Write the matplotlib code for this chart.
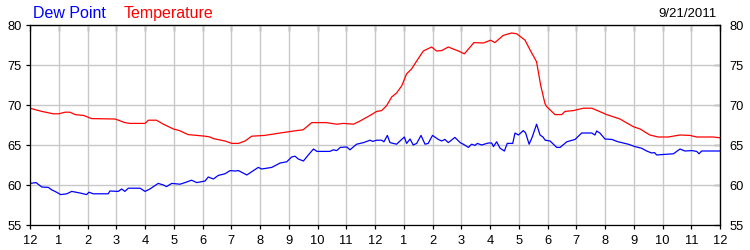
import matplotlib.pyplot as plt

# hours since midnight
temp_hours = [0.0, 0.2, 0.41, 0.81, 1.0, 1.22, 1.39, 1.57, 1.86, 2.14, 2.96, 3.3, 3.48, 4.0,
              4.12, 4.4, 4.64, 4.99, 5.2, 5.5, 5.8, 6.09, 6.26, 6.38, 6.78, 7.02, 7.25, 7.48,
              7.71, 8.17, 8.7, 9.27, 9.5, 9.8, 10.3, 10.67, 10.9, 11.25, 11.48, 11.83, 12.06,
              12.23, 12.4, 12.58, 12.75, 12.93, 13.1, 13.27, 13.45, 13.68, 13.97, 14.14, 14.32,
              14.55, 14.72, 14.9, 15.11, 15.44, 15.77, 16.02, 16.17, 16.46, 16.75, 16.93, 17.22,
              17.39, 17.62, 17.76, 17.91, 17.97, 18.26, 18.49, 18.61, 18.9, 19.25, 19.54, 19.77,
              20.06, 20.52, 20.98, 21.22, 21.56, 21.85, 22.2, 22.6, 22.95, 23.19, 23.77, 24.0]
temp_values = [69.6, 69.4, 69.2, 68.9, 68.9, 69.1, 69.1, 68.8, 68.7, 68.3, 68.25, 67.8, 67.7, 67.7,
               68.1, 68.1, 67.6, 67.0, 66.8, 66.3, 66.2, 66.1, 66.0, 65.8, 65.5, 65.2, 65.2, 65.5,
               66.1, 66.2, 66.5, 66.8, 66.9, 67.8, 67.8, 67.6, 67.7, 67.6, 68.0, 68.7, 69.2,
               69.3, 69.9, 71.0, 71.5, 72.4, 73.9, 74.5, 75.5, 76.75, 77.25, 76.75, 76.8,
               77.25, 77.0, 76.75, 76.4, 77.8, 77.75, 78.1, 77.8, 78.7, 79.0, 78.9, 78.1,
               76.9, 75.4, 72.5, 70.2, 69.8, 68.8, 68.8, 69.2, 69.3, 69.6, 69.6, 69.25,
               68.8, 68.25, 67.3, 67.0, 66.25, 66.0, 66.0, 66.25, 66.2, 66.0, 66.0, 65.9]

dew_hours = [0.0, 0.21, 0.41, 0.64, 0.75, 0.87, 1.07, 1.28, 1.45, 1.74, 1.97, 2.05, 2.2, 2.72,
             2.78, 3.07, 3.19, 3.3, 3.42, 3.83, 4.0, 4.17, 4.46, 4.64, 4.75, 4.93, 5.22, 5.39,
             5.62, 5.8, 6.09, 6.2, 6.38, 6.55, 6.78, 6.96, 7.13, 7.25, 7.36, 7.54, 7.77, 7.94,
             8.06, 8.41, 8.7, 8.93, 9.1, 9.22, 9.33, 9.51, 9.68, 9.86, 9.98, 10.43, 10.55,
             10.67, 10.79, 11.02, 11.13, 11.36, 11.6, 11.83, 11.92, 12.06, 12.23, 12.31, 12.43,
             12.52, 12.75, 12.93, 13.02, 13.1, 13.22, 13.33, 13.45, 13.6, 13.74, 13.85, 14.0,
             14.2, 14.32, 14.43, 14.55, 14.78, 14.96, 15.07, 15.25, 15.36, 15.48, 15.56, 15.71,
             15.94, 16.06, 16.12, 16.23, 16.35, 16.5, 16.6, 16.79, 16.87, 16.99, 17.16, 17.24,
             17.36, 17.47, 17.62, 17.74, 17.84, 17.92, 18.09, 18.32, 18.44, 18.67, 18.96, 19.19,
             19.54, 19.65, 19.71, 19.82, 20.0, 20.23, 20.46, 20.81, 21.04, 21.27, 21.45, 21.62,
             21.72, 21.8, 21.97, 22.38, 22.61, 22.78, 23.02, 23.19, 23.27, 23.36, 24.0]
dew_values = [60.2, 60.3, 59.75, 59.7, 59.4, 59.2, 58.8, 58.9, 59.2, 59.0, 58.8, 59.1, 58.9, 58.9,
              59.25, 59.2, 59.5, 59.2, 59.6, 59.6, 59.2, 59.5, 60.2, 60.0, 59.8, 60.2, 60.1, 60.3,
              60.6, 60.3, 60.5, 61.0, 60.75, 61.2, 61.4, 61.8, 61.75, 61.8, 61.6, 61.25, 61.8, 62.2,
              62.0, 62.2, 62.75, 62.9, 63.5, 63.6, 63.25, 63.0, 63.75, 64.5, 64.2, 64.2, 64.4,
              64.3, 64.7, 64.75, 64.4, 65.1, 65.3, 65.6, 65.45, 65.6, 65.6, 65.4, 66.2,
              65.3, 65.1, 65.7, 66.0, 65.2, 65.75, 65.0, 65.2, 66.2, 65.1, 65.2, 66.2,
              65.7, 65.5, 65.7, 65.3, 65.95, 65.3, 65.1, 64.7, 65.1, 64.95, 65.2, 65.0,
              65.25, 65.25, 64.8, 65.4, 64.6, 64.25, 65.2, 65.2, 66.5, 66.25, 66.8, 66.5,
              65.1, 66.0, 67.6, 66.25, 66.0, 65.6, 65.5, 64.7, 64.7, 65.4, 65.7, 66.5,
              66.5, 66.25, 66.75, 66.5, 65.75, 65.7, 65.4, 65.1, 64.8, 64.6, 64.25, 64.0,
              64.05, 63.75, 63.8, 63.9, 64.5, 64.25, 64.3, 64.2, 63.9, 64.25, 64.25]

hour_ticks = list(range(25))
hour_labels = ['12'] + [str(h) for h in range(1, 12)] + ['12'] + [str(h) for h in range(1, 12)] + ['12']
y_ticks = [55, 60, 65, 70, 75, 80]

plt.rcParams['font.family'] = ['Liberation Sans', 'DejaVu Sans']

fig = plt.figure(figsize=(7.5, 2.5), dpi=100)
ax = fig.add_axes([0.04, 0.1, 0.92, 0.8])

ax.plot(temp_hours, temp_values, color='#ff0000', lw=0.9)
ax.plot(dew_hours, dew_values, color='#0000ff', lw=0.9)

ax.set_xlim(0, 24)
ax.set_ylim(55, 80)
ax.set_xticks(hour_ticks)
ax.set_xticklabels(hour_labels)
ax.set_yticks(y_ticks)
ax.set_axisbelow(True)
ax.grid(color='#c8c8c8', lw=1)
for s in ax.spines.values():
    s.set_linewidth(0.9)
ax.tick_params(axis='x', direction='out', length=3, width=0.9, pad=4, labelsize=9.3)
ax.tick_params(axis='y', direction='out', length=3, width=0.9, pad=3, labelsize=9.3)

# top ticks point inward, right side has labels and inward ticks
top = ax.secondary_xaxis('top')
top.set_xticks(hour_ticks)
top.tick_params(direction='in', length=4, width=0.9, labeltop=False)
right = ax.secondary_yaxis('right')
right.set_yticks(y_ticks)
right.tick_params(direction='in', length=4, width=0.9, pad=7, labelsize=9.3)

fig.text(33 / 750, 0.929, 'Dew Point', color='#0000ff', fontsize=11.5, va='baseline')
fig.text(124 / 750, 0.929, 'Temperature', color='#ff0000', fontsize=11.5, va='baseline')
fig.text(717 / 750, 0.933, '9/21/2011', color='black', fontsize=9.5, ha='right', va='baseline')

fig.savefig('out.png', dpi=100)
